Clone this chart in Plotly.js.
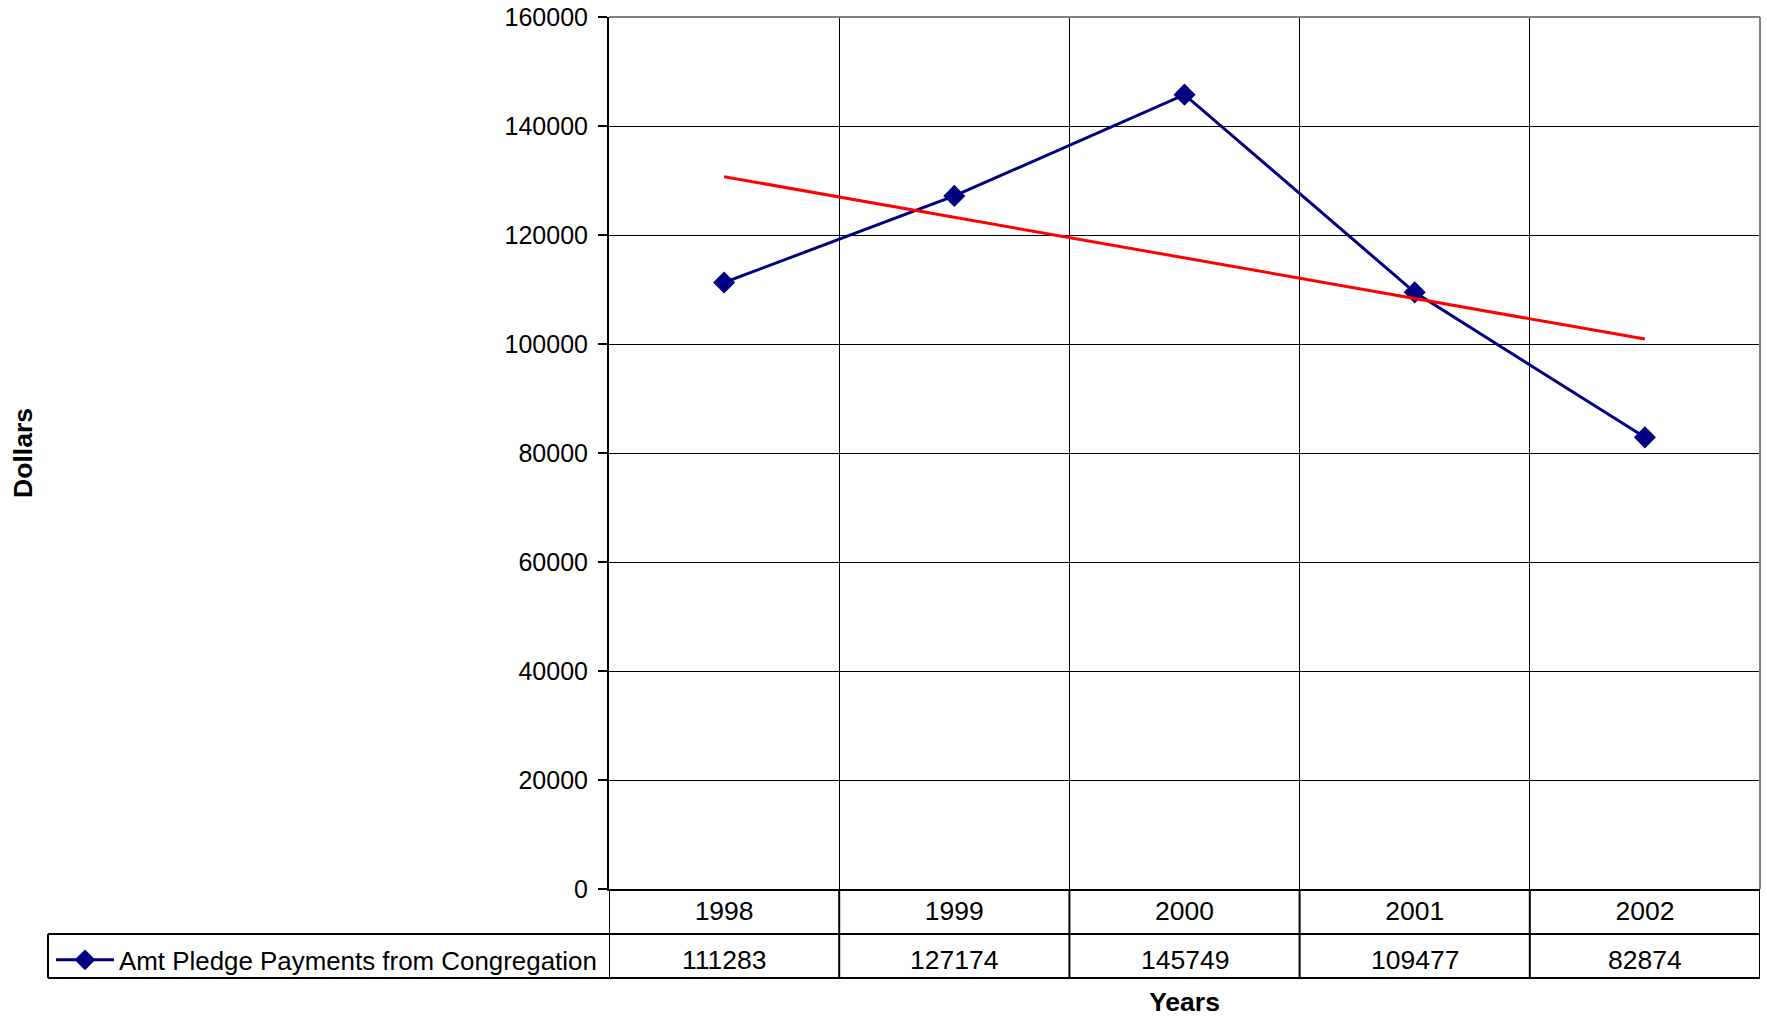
<!DOCTYPE html>
<html>
<head>
<meta charset="utf-8">
<script src="https://cdn.plot.ly/plotly-3.0.1.min.js"></script>
<style>html,body{margin:0;padding:0;background:#fff;}#chart{width:1767px;height:1021px;}</style>
</head>
<body>
<div id="chart"></div>
<script>
const years = ['1998', '1999', '2000', '2001', '2002'];
const pledgePayments = [111283, 127174, 145749, 109477, 82874];
const trendYears = ['1998', '2002'];
const trendValues = [130700, 100900];
const seriesName = 'Amt Pledge Payments from Congregation';
const yTickValues = [0, 20000, 40000, 60000, 80000, 100000, 120000, 140000, 160000];

const FONT = 'Liberation Sans, Arial, sans-serif';
const FS = 26.5;
const FY = 25;
const FL = 25.9;
const W = 1767, H = 1021;
const M = {l: 609, r: 7, t: 17, b: 132};
const plotW = W - M.l - M.r, plotH = H - M.t - M.b;
const px2paperY = y => (H - M.b - y) / plotH;
const px2paperX = x => (x - M.l) / plotW;

const row1Bottom = px2paperY(934);
const row2Bottom = px2paperY(978);
const row2Mid = px2paperY(960);
const legendLeft = px2paperX(51);

const traces = [
  {
    type: 'scatter', mode: 'lines+markers', name: seriesName,
    x: years, y: pledgePayments,
    line: {color: '#000080', width: 3},
    marker: {symbol: 'diamond', size: 17, color: '#000080'},
    showlegend: true
  },
  {
    type: 'scatter', mode: 'lines', name: 'Linear trend',
    x: trendYears, y: trendValues,
    line: {color: '#FF0000', width: 3},
    showlegend: false
  }
];

const shapes = [];
const blk = {color: '#000', width: 2};
for (let i = 0; i <= years.length; i++) {
  shapes.push({type: 'line', xref: 'x', yref: 'paper', x0: i - 0.5, x1: i - 0.5, y0: 0, y1: row2Bottom, line: blk});
}
shapes.push({type: 'line', xref: 'paper', yref: 'paper', x0: px2paperX(48), x1: 1, y0: row1Bottom, y1: row1Bottom, line: blk});
shapes.push({type: 'line', xref: 'paper', yref: 'paper', x0: px2paperX(48), x1: 1, y0: row2Bottom, y1: row2Bottom, line: blk});
shapes.push({type: 'line', xref: 'paper', yref: 'paper', x0: px2paperX(48), x1: px2paperX(48), y0: row1Bottom, y1: row2Bottom, line: blk});
shapes.push({type: 'line', xref: 'paper', yref: 'paper', x0: 0, x1: 1, y0: 1, y1: 1, line: {color: '#808080', width: 2}});
shapes.push({type: 'line', xref: 'paper', yref: 'paper', x0: 1, x1: 1, y0: 0, y1: 1, line: {color: '#808080', width: 2}});

const annotations = years.map((yr, i) => ({
  xref: 'x', yref: 'paper', x: i, y: row2Mid, yanchor: 'middle', xanchor: 'center',
  text: String(pledgePayments[i]), showarrow: false,
  font: {family: FONT, size: FS, color: '#000'}
}));

const layout = {
  width: W, height: H,
  margin: M,
  paper_bgcolor: '#fff', plot_bgcolor: '#fff',
  font: {family: FONT, size: FS, color: '#000'},
  showlegend: true,
  legend: {
    x: legendLeft, xanchor: 'left', y: row2Mid, yanchor: 'middle',
    xref: 'paper', yref: 'paper',
    bgcolor: 'rgba(0,0,0,0)', borderwidth: 0,
    font: {family: FONT, size: FL, color: '#000'},
    itemwidth: 58
  },
  xaxis: {
    type: 'category', range: [-0.5, 4.5],
    tickson: 'boundaries', ticks: '', showgrid: true, gridcolor: '#000', gridwidth: 1,
    showline: true, linecolor: '#000', linewidth: 2,
    tickfont: {family: FONT, size: FS, color: '#000'},
    ticklabelstandoff: -3,
    zeroline: false,
    title: {text: '<b>Years</b>', font: {family: FONT, size: FS, color: '#000'}, standoff: 68}
  },
  yaxis: {
    range: [0, 160000], tickvals: yTickValues, ticktext: yTickValues.map(String),
    showgrid: true, gridcolor: '#000', gridwidth: 1,
    showline: true, linecolor: '#000', linewidth: 2,
    ticks: 'outside', ticklen: 9, tickwidth: 1.5, tickcolor: '#000',
    tickfont: {family: FONT, size: FY, color: '#000'},
    ticklabelstandoff: 5,
    zeroline: false,
    title: {text: '<b>Dollars</b>', font: {family: FONT, size: FS, color: '#000'}, standoff: 464}
  },
  shapes: shapes,
  annotations: annotations
};

Plotly.newPlot('chart', traces, layout, {displayModeBar: false, staticPlot: true});
</script>
</body>
</html>
